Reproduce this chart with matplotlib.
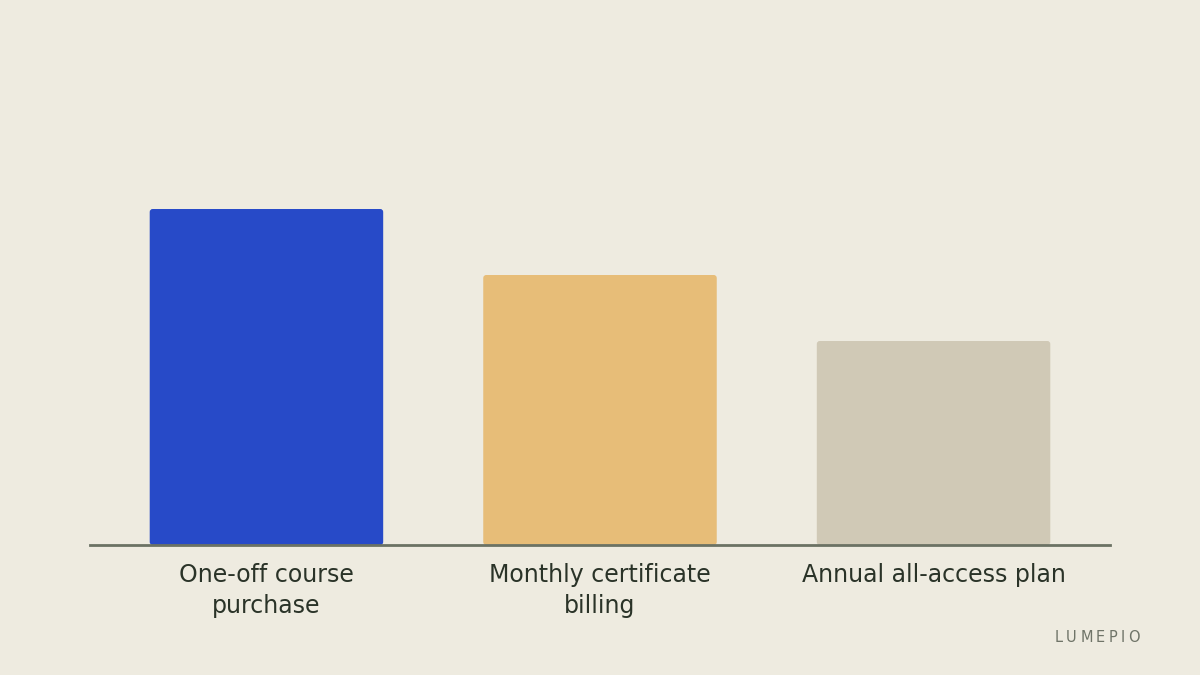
import matplotlib
matplotlib.use("Agg")
import matplotlib.pyplot as plt
from matplotlib.patches import FancyBboxPatch

categories = ["One-off course\npurchase", "Monthly certificate\nbilling", "Annual all-access plan"]
values = [56, 45, 34]
colors = ["#274ac8", "#e7bd78", "#d0c9b6"]
brand = "LUMEPIO"

BG = "#eeebe0"
fig = plt.figure(figsize=(12, 6.75), dpi=100, facecolor=BG)
ax = fig.add_axes([90/1200, 130/675, 1020/1200, 500/675])
ax.set_facecolor(BG)
ax.set_xlim(-0.529, 2.529)
ax.set_ylim(0, 500/6)

bar_w = 0.7
x_per_px = (2.529 + 0.529) / 1020
y_per_px = (500/6) / 500
r_px = 3
for i, (v, c) in enumerate(zip(values, colors)):
    p = FancyBboxPatch((i - bar_w/2, 0), bar_w, v,
                       boxstyle=f"round,pad=0,rounding_size={r_px*x_per_px}",
                       mutation_aspect=y_per_px/x_per_px,
                       facecolor=c, edgecolor="none", zorder=2)
    ax.add_patch(p)

ax.axhline(0, color="#6b7264", lw=2, zorder=3, clip_on=False)
for s in ax.spines.values():
    s.set_visible(False)
ax.set_yticks([])
ax.set_xticks(range(len(categories)))
ax.set_xticklabels(categories, fontsize=17, color="#2a3328", linespacing=1.35)
ax.tick_params(axis="x", length=0, pad=13)

# letter-spaced brand mark, right-aligned at x=1140 px
renderer = fig.canvas.get_renderer()
fs = 10.5
tracking = 3.4  # px
widths = []
for ch in brand:
    t = fig.text(0, 0, ch, fontsize=fs)
    widths.append(t.get_window_extent(renderer).width)
    t.remove()
total = sum(widths) + tracking * (len(brand) - 1)
x = 1140 - total
for ch, w in zip(brand, widths):
    fig.text(x/1200, 1 - 642/675, ch, ha="left", va="baseline",
             fontsize=fs, color="#6f7468")
    x += w + tracking

fig.savefig("out.png", dpi=100, facecolor=BG)
